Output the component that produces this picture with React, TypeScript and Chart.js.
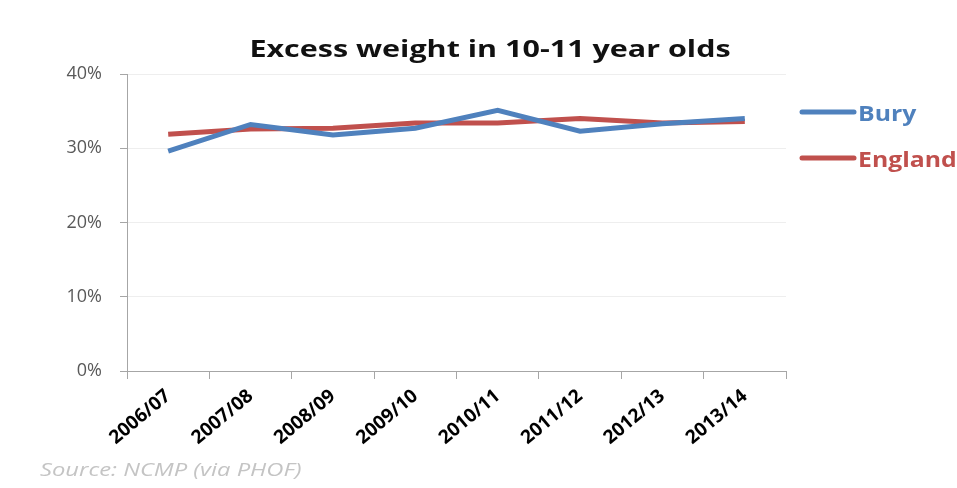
import React, { useEffect, useRef } from "react";
import { Chart, registerables } from "chart.js";

Chart.register(...registerables);

const categories = ["2006/07", "2007/08", "2008/09", "2009/10", "2010/11", "2011/12", "2012/13", "2013/14"];
const buryValues = [29.6, 33.2, 31.8, 32.7, 35.1, 32.3, 33.3, 34.0];
const englandValues = [31.9, 32.6, 32.7, 33.4, 33.4, 34.0, 33.4, 33.6];
const yTicks = [0, 10, 20, 30, 40];
const titleText = "Excess weight in 10-11 year olds";
const sourceText = "Source: NCMP (via PHOF)";

const BLUE = "#4F81BD";
const RED = "#C0504D";

function stretchedText(ctx: any, text: string, x: number, y: number, sx: number, align: string) {
  ctx.save();
  ctx.translate(x, y);
  ctx.scale(sx, 1);
  ctx.textAlign = align;
  ctx.fillText(text, 0, 0);
  ctx.restore();
}

const overlayPlugin = {
  id: "overlay",
  afterDraw(chart: any) {
    const ctx = chart.ctx;
    const area = chart.chartArea;
    ctx.save();
    // title
    ctx.fillStyle = "#111";
    ctx.font = "bold 24px 'Open Sans'";
    ctx.textBaseline = "alphabetic";
    stretchedText(ctx, titleText, 490, 57, 1.27, "center");
    // legend
    const items = [
      { label: chart.data.datasets[0].label, color: BLUE, y: 112 },
      { label: chart.data.datasets[1].label, color: RED, y: 158 },
    ];
    items.forEach((it) => {
      ctx.strokeStyle = it.color;
      ctx.lineWidth = 5;
      ctx.lineCap = "round";
      ctx.beginPath();
      ctx.moveTo(area.right + 16, it.y);
      ctx.lineTo(area.right + 68, it.y);
      ctx.stroke();
      ctx.fillStyle = it.color;
      ctx.font = "bold 21px 'Open Sans'";
      ctx.textBaseline = "alphabetic";
      stretchedText(ctx, it.label, area.right + 72, it.y + 9, 1.18, "left");
    });
    // source
    ctx.fillStyle = "#c4c4c4";
    ctx.font = "italic 18px 'Open Sans'";
    ctx.textBaseline = "alphabetic";
    stretchedText(ctx, sourceText, 40, 476, 1.32, "left");
    ctx.restore();
  },
};

export default function App() {
  const ref = useRef<HTMLCanvasElement>(null);
  useEffect(() => {
    const canvas = ref.current!;
    const chart = new Chart(canvas, {
      type: "line",
      data: {
        labels: categories,
        datasets: [
          {
            label: "Bury",
            data: buryValues,
            borderColor: BLUE,
            backgroundColor: BLUE,
            borderWidth: 5,
            pointRadius: 0,
            tension: 0,
          },
          {
            label: "England",
            data: englandValues,
            borderColor: RED,
            backgroundColor: RED,
            borderWidth: 5,
            pointRadius: 0,
            tension: 0,
          },
        ],
      },
      options: {
        animation: false,
        responsive: false,
        maintainAspectRatio: false,
        layout: { padding: { top: 74, right: 171, bottom: 0, left: 0 } },
        plugins: {
          legend: { display: false },
          title: { display: false },
          tooltip: { enabled: false },
        },
        scales: {
          x: {
            type: "category",
            offset: true,
            grid: {
              offset: true,
              drawOnChartArea: false,
              color: "#a6a6a6",
              tickLength: 8,
            },
            border: { color: "#a6a6a6", width: 1 },
            ticks: {
              minRotation: 40,
              maxRotation: 40,
              color: "#000",
              font: { family: "'Open Sans'", size: 19, weight: "bold" },
              padding: 6,
            },
            afterFit(scale: any) {
              scale.height = 117;
            },
          },
          y: {
            min: 0,
            max: 40,
            afterBuildTicks(scale: any) {
              scale.ticks = yTicks.map((v) => ({ value: v }));
            },
            grid: {
              color: "#eeeeee",
              tickColor: "#a6a6a6",
              tickLength: 7,
            },
            border: { color: "#a6a6a6", width: 1 },
            ticks: {
              color: "#595959",
              font: { family: "'Open Sans'", size: 18 },
              padding: 18,
              callback: (v: any) => v + "%",
            },
            afterFit(scale: any) {
              scale.width = 127;
            },
          },
        },
      },
      plugins: [overlayPlugin],
    });
    return () => chart.destroy();
  }, []);
  return (
    <div style={{ position: "absolute", left: 0, top: 0, width: 957, height: 488, background: "#fff" }}>
      <canvas ref={ref} width={957} height={488} style={{ display: "block", width: 957, height: 488 }} />
    </div>
  );
}
